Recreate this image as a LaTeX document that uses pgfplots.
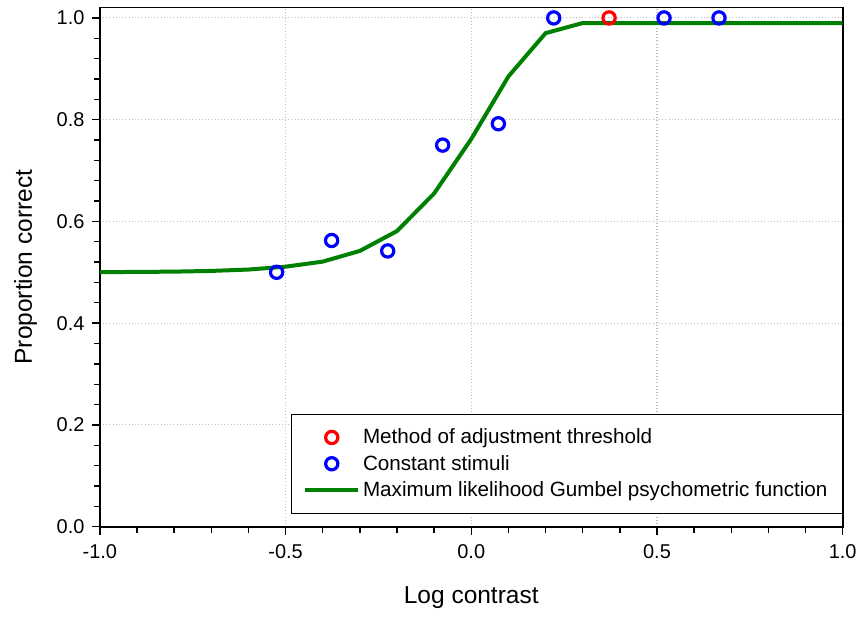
\documentclass[border=0pt]{standalone}
\usepackage{pgfplots}
\pgfplotsset{compat=1.18}
\usepackage{fontspec}
\setmainfont{Liberation Sans}
\definecolor{fitgreen}{RGB}{0,128,0}
\begin{document}
\begin{tikzpicture}
\begin{axis}[
  width=558pt, height=390pt, scale only axis,
  xmin=-1, xmax=1, ymin=0, ymax=1.0206,
  xtick={-1,-0.5,0,0.5,1}, ytick={0,0.2,0.4,0.6,0.8,1.0},
  minor x tick num=4, minor y tick num=4,
  xtick pos=bottom, ytick pos=left,
  tick align=outside,
  major tick length=6pt, minor tick length=4.5pt,
  every tick/.style={black, line width=1pt},
  axis line style={line width=1.3pt},
  grid=major,
  major grid style={dotted, gray!50, line width=0.8pt},
  xticklabel style={/pgf/number format/fixed,/pgf/number format/fixed zerofill,/pgf/number format/precision=1},
  yticklabel style={/pgf/number format/fixed,/pgf/number format/fixed zerofill,/pgf/number format/precision=1},
  /pgf/number format/assume math mode=true,
  tick label style={font=\fontsize{15}{18}\selectfont},
  xticklabel style={yshift=-4pt},
  yticklabel style={xshift=-2pt},
  label style={font=\fontsize{18.4}{22}\selectfont},
  xlabel={Log contrast},
  ylabel={Proportion correct},
  xlabel style={yshift=-14pt},
  ylabel style={yshift=8pt},
  legend style={at={(1,0.025)}, anchor=south east, draw=black, line width=0.8pt,
    font=\fontsize{15.5}{18}\selectfont, inner xsep=9pt, inner ysep=9pt,
    row sep=3pt, cells={anchor=west}},
  legend image code/.code={\draw[mark repeat=2,mark phase=2,#1] plot coordinates {(0pt,0pt) (20pt,0pt) (40pt,0pt)};},
  clip=false,
]
\addplot[only marks, mark=o, mark size=4.6pt, draw=red, line width=2.4pt] coordinates {(0.371,1.0)};
\addlegendentry{Method of adjustment threshold}
\addplot[only marks, mark=o, mark size=4.6pt, draw=blue, line width=2.4pt] coordinates {
(-0.524,0.500) (-0.376,0.5625) (-0.225,0.542) (-0.077,0.750) (0.073,0.792)
(0.222,1.0) (0.519,1.0) (0.667,1.0)};
\addlegendentry{Constant stimuli}
\addplot[fitgreen, line width=3pt, no marks] coordinates {
(-1.0,0.5003) (-0.9,0.5007) (-0.8,0.5013) (-0.7,0.5027) (-0.6,0.5054)
(-0.5,0.511) (-0.4,0.521) (-0.3,0.542) (-0.2,0.581) (-0.1,0.655)
(0.0,0.762) (0.1,0.885) (0.2,0.970) (0.3,0.990) (0.4,0.990) (0.5,0.990)
(0.6,0.990) (0.7,0.990) (0.8,0.990) (0.9,0.990) (1.0,0.990)};
\addlegendentry{Maximum likelihood Gumbel psychometric function}
\end{axis}
\path (current axis.south west) ++(-75pt,-67.7pt) coordinate (bbsw);
\path (current axis.north east) ++(12.75pt,5.6pt) coordinate (bbne);
\path[use as bounding box] (bbsw) rectangle (bbne);
\end{tikzpicture}
\end{document}
